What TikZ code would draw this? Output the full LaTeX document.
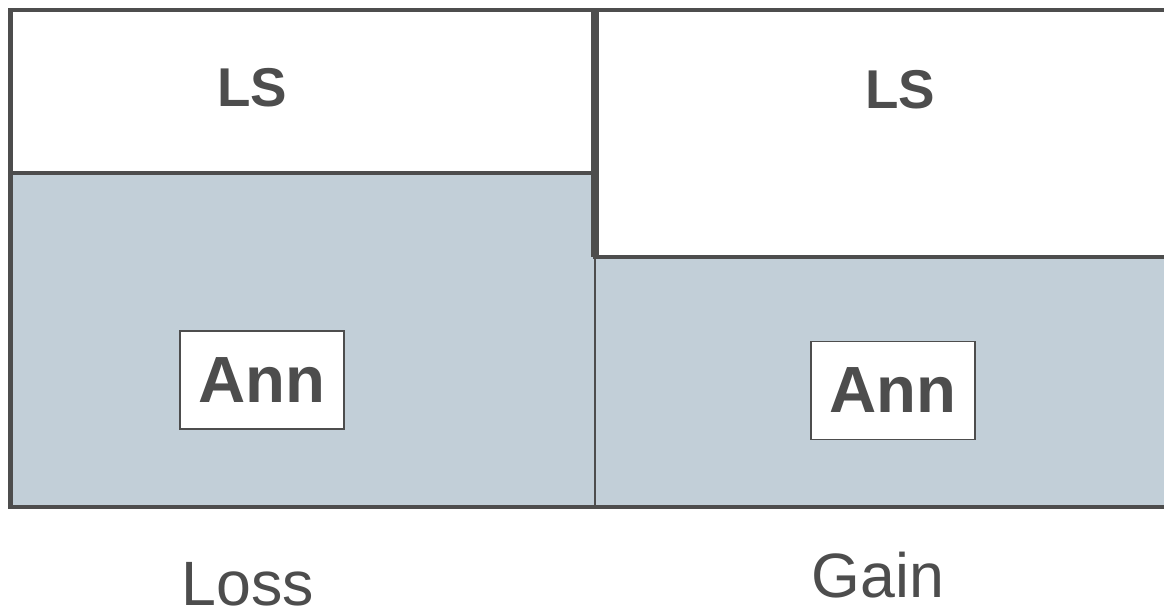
\documentclass[tikz,border=0pt]{standalone}
\usepackage{fontspec}
\setmainfont{Liberation Sans}
\definecolor{ink}{HTML}{4D4D4D}
\definecolor{panel}{HTML}{C2CFD8}
\begin{document}
\begin{tikzpicture}[x=0.75pt,y=-0.75pt,
  thickline/.style={draw=ink,line width=3.6pt,line cap=rect},
  thinline/.style={draw=ink,line width=1.6pt},
  annbox/.style={draw=ink,fill=white,line width=1pt,minimum width=164*0.75pt,minimum height=98*0.75pt,inner sep=0pt,font=\fontsize{49}{58}\selectfont\bfseries,text=ink},
  lslabel/.style={font=\fontsize{41}{48}\selectfont\bfseries,text=ink,inner sep=0pt},
  caption/.style={font=\fontsize{47}{56}\selectfont,text=ink,inner sep=0pt}]
\useasboundingbox (0,0) rectangle (1164,610);
\fill[white] (0,0) rectangle (1164,610);
% grey panels
\fill[panel] (11,173) rectangle (595,507);
\fill[panel] (595,257) rectangle (1164,507);
% coordinates
\coordinate (tl) at (10.5,10);
\coordinate (tr) at (1170,10);
\coordinate (bl) at (10.5,507);
\coordinate (br) at (1170,507);
\coordinate (ldl) at (10.5,173);
\coordinate (ldr) at (595,173);
\coordinate (mt) at (595,10);
\coordinate (mm) at (595,257);
\coordinate (mb) at (595,507);
\coordinate (rdr) at (1170,257);
% lines
\draw[thinline] (mm) -- (mb);
\draw[thickline] (tl) -- (tr);
\draw[thickline] (tl) -- (bl);
\draw[thickline] (bl) -- (br);
\draw[thickline] (ldl) -- (ldr);
\draw[draw=ink,line width=5.5pt] (mt) -- (mm);
\draw[thickline,line width=3.2pt] (mm) -- (rdr);
% labels
\node[lslabel] (lsl) at (252,88) {LS};
\node[lslabel] (lsr) at (900,90) {LS};
\node[annbox] (annl) at (262,380) {Ann};
\node[annbox] (annr) at (893,390.5) {Ann};
\node[caption,anchor=base] (loss) at (248,605) {Loss};
\node[caption,anchor=base] (gain) at (878,597) {Gain};
\end{tikzpicture}
\end{document}
